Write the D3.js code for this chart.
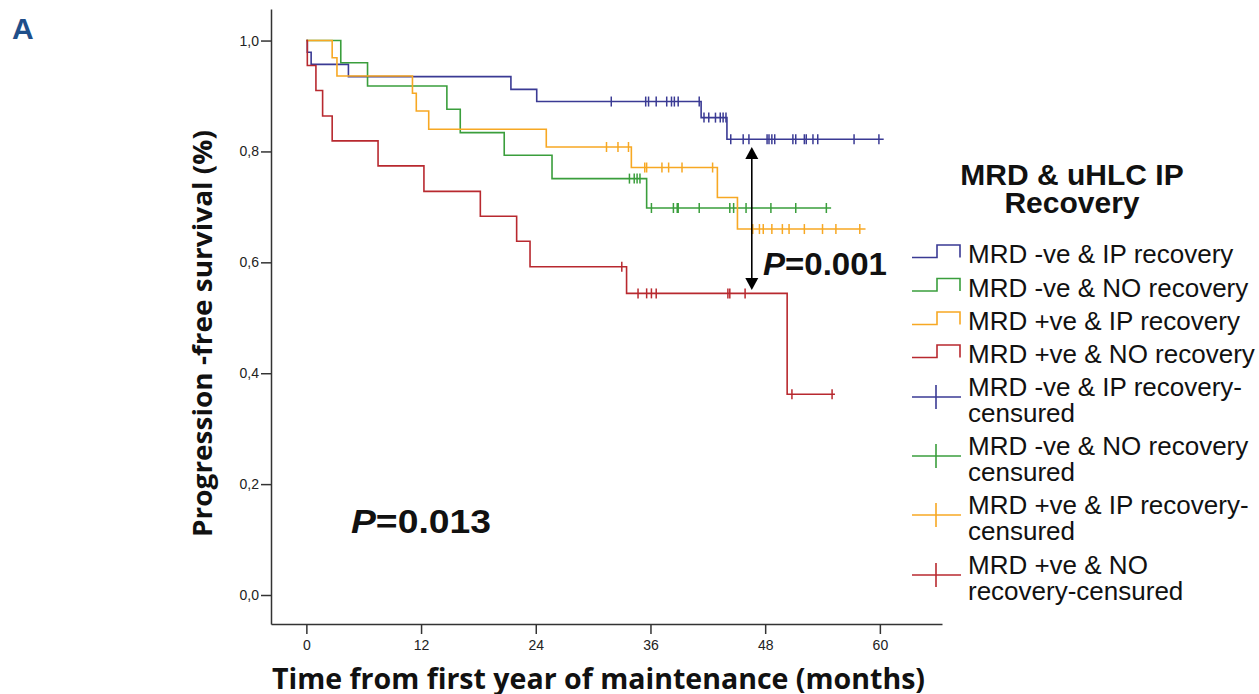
<!DOCTYPE html>
<html>
<head>
<meta charset="utf-8">
<script src="https://cdnjs.cloudflare.com/ajax/libs/d3/7.8.5/d3.min.js"></script>
<style>
body{margin:0;background:#fff;}
</style>
</head>
<body>
<script>
// KM curves: [time (months), survival after the drop]
var navySteps = [[0,1],[0.1,0.979],[0.5,0.957],[4.4,0.935],[21.4,0.912],[24.1,0.890],[41.3,0.861],[44.0,0.822]];
var navyEnd = 60.4;
var navyCensor = [31.9,35.5,35.8,36.6,37.7,38.2,38.5,38.9,41.1,41.6,42.1,42.8,43.3,43.6,43.9,44.4,45.7,46.3,48.2,48.4,48.7,49.0,50.9,51.2,52.1,52.3,53.0,53.5,57.3,59.9];

var greenSteps = [[0,1],[3.6,0.960],[6.4,0.918],[14.7,0.876],[16.1,0.834],[20.7,0.793],[25.7,0.751],[35.6,0.698]];
var greenEnd = 54.9;
var greenCensor = [33.8,34.3,34.6,34.9,36.1,38.4,38.8,38.9,41.1,44.3,44.7,46.0,48.6,51.2,54.4];

var orangeSteps = [[0,1],[2.7,0.969],[3.2,0.936],[11.1,0.905],[11.5,0.873],[12.8,0.840],[25.1,0.808],[34.0,0.771],[43.0,0.717],[45.1,0.660]];
var orangeEnd = 58.5;
var orangeCensor = [31.4,32.6,33.7,35.4,35.6,37.2,37.9,39.3,42.5,46.7,47.4,47.8,48.7,49.8,50.5,52.1,54.0,55.4,57.9];

var redSteps = [[0,1],[0.1,0.955],[1.0,0.910],[1.7,0.864],[2.7,0.819],[7.5,0.774],[12.3,0.728],[18.2,0.683],[22.0,0.638],[23.4,0.592],[33.5,0.544],[50.3,0.362]];
var redEnd = 55.3;
var redCensor = [33.0,34.7,35.6,36.1,36.6,44.1,44.3,45.9,50.8,55.0];

var xTicks = [0,12,24,36,48,60];
var yTicks = [0,0.2,0.4,0.6,0.8,1.0];

var groupNames = ['MRD -ve & IP recovery','MRD -ve & NO recovery','MRD +ve & IP recovery','MRD +ve & NO recovery'];
var censorNames = [['MRD -ve & IP recovery-','censured'],['MRD -ve & NO recovery','censured'],['MRD +ve & IP recovery-','censured'],['MRD +ve & NO','recovery-censured']];
var colors = ['#3a3a94','#3a9e3c','#f7a823','#b8292f'];

// arrow between best and worst curve + p values
var arrowT = 46.6, arrowTop = 0.808, arrowBottom = 0.550;

var width = 1259, height = 694;
var svg = d3.select('body').append('svg')
    .attr('width', width)
    .attr('height', height)
    .style('font-family', 'Liberation Sans, Arial, sans-serif');

var xScale = d3.scaleLinear().domain([-3.7, 66.5]).range([271, 942]);
var yScale = d3.scaleLinear().domain([-0.0523, 1.0569]).range([624, 9]);

var fmt = d3.format('.1f');
var xAxis = d3.axisBottom(xScale).tickValues(xTicks).tickSize(10).tickSizeOuter(0).tickPadding(6);
var yAxis = d3.axisLeft(yScale).tickValues(yTicks).tickSize(10).tickSizeOuter(0).tickPadding(2)
    .tickFormat(d => fmt(d).replace('.', ','));

var gx = svg.append('g').attr('transform', 'translate(0,624)').call(xAxis);
var gy = svg.append('g').attr('transform', 'translate(271,0)').call(yAxis);
[gx, gy].forEach(function(g){
    g.select('.domain').attr('stroke', '#333').attr('stroke-width', 1.5);
    g.selectAll('.tick line').attr('stroke', '#333').attr('stroke-width', 1.5);
    g.selectAll('.tick text').attr('fill', '#222').style('font-size', '14px').style('font-family', 'Liberation Sans, Arial, sans-serif');
});

// axis titles
svg.append('text').text('Time from first year of maintenance (months)')
    .attr('x', 272).attr('y', 689)
    .attr('textLength', 653).attr('lengthAdjust', 'spacingAndGlyphs')
    .style('font-family', 'Open Sans, sans-serif').style('font-weight', 'bold').style('font-size', '29px')
    .attr('fill', '#111');
svg.append('text').text('Progression -free survival (%)')
    .attr('transform', 'translate(212,537) rotate(-90)')
    .attr('textLength', 407).attr('lengthAdjust', 'spacingAndGlyphs')
    .style('font-family', 'Open Sans, sans-serif').style('font-weight', 'bold').style('font-size', '27px')
    .attr('fill', '#111');

// panel letter
svg.append('text').text('A').attr('x', 12).attr('y', 39)
    .style('font-weight', 'bold').style('font-size', '30px').attr('fill', '#1f4f8a');

// survival curves
var allSteps = [navySteps, greenSteps, orangeSteps, redSteps];
var allEnds = [navyEnd, greenEnd, orangeEnd, redEnd];
var allCensor = [navyCensor, greenCensor, orangeCensor, redCensor];

var line = d3.line().x(d => xScale(d[0])).y(d => yScale(d[1])).curve(d3.curveStepAfter);

function survAt(steps, t){   // value of the step function at time t
    var s = 1;
    for(var i=0;i<steps.length;i++){ if(steps[i][0] <= t){ s = steps[i][1]; } }
    return s;
}

for(var i=0;i<4;i++){
    var pts = allSteps[i].concat([[allEnds[i], allSteps[i][allSteps[i].length-1][1]]]);
    svg.append('path').datum(pts)
        .attr('d', line)
        .attr('fill', 'none')
        .attr('stroke', colors[i])
        .attr('stroke-width', 1.6);
    var steps = allSteps[i];
    svg.append('g').selectAll('line')
        .data(allCensor[i])
        .enter()
        .append('line')
        .attr('x1', d => xScale(d)).attr('x2', d => xScale(d))
        .attr('y1', d => yScale(survAt(steps, d)) - 5)
        .attr('y2', d => yScale(survAt(steps, d)) + 5)
        .attr('stroke', colors[i])
        .attr('stroke-width', 1.5);
}

// double arrow
var ax = xScale(arrowT), ay1 = yScale(arrowTop), ay2 = yScale(arrowBottom);
svg.append('line').attr('x1', ax).attr('x2', ax).attr('y1', ay1 + 8).attr('y2', ay2 - 8)
    .attr('stroke', '#000').attr('stroke-width', 1.6);
svg.append('path').attr('d', `M${ax},${ay1} L${ax-6.5},${ay1+12} L${ax+6.5},${ay1+12} Z`).attr('fill', '#000');
svg.append('path').attr('d', `M${ax},${ay2} L${ax-6.5},${ay2-12} L${ax+6.5},${ay2-12} Z`).attr('fill', '#000');

function pText(x, y, val, len, size){
    var t = svg.append('text').attr('x', x).attr('y', y)
        .attr('textLength', len).attr('lengthAdjust', 'spacingAndGlyphs')
        .style('font-weight', 'bold').style('font-size', size + 'px').attr('fill', '#111');
    t.append('tspan').text('P').style('font-style', 'italic');
    t.append('tspan').text('=' + val);
}
pText(763, 275, '0.001', 124, 31);
pText(351, 533, '0.013', 140, 33);

// legend
svg.append('text').text('MRD & uHLC IP').attr('x', 1072).attr('y', 185).attr('text-anchor', 'middle')
    .style('font-weight', 'bold').style('font-size', '30px').attr('fill', '#111');
svg.append('text').text('Recovery').attr('x', 1072).attr('y', 213).attr('text-anchor', 'middle')
    .style('font-weight', 'bold').style('font-size', '30px').attr('fill', '#111');

var rowBase = [263, 296.5, 330, 363];
for(var i=0;i<4;i++){
    var b = rowBase[i];
    svg.append('path').attr('d', `M912,${b-5.5} H937 V${b-18} H960 V${b-5.5}`)
        .attr('fill', 'none').attr('stroke', colors[i]).attr('stroke-width', 1.6);
    svg.append('text').text(groupNames[i]).attr('x', 968).attr('y', b)
        .style('font-size', '26px').attr('fill', '#111');
}
var censBase = [396, 455, 514, 574];
for(var i=0;i<4;i++){
    var b = censBase[i];
    svg.append('line').attr('x1', 912).attr('x2', 961).attr('y1', b+1).attr('y2', b+1)
        .attr('stroke', colors[i]).attr('stroke-width', 1.6);
    svg.append('line').attr('x1', 936).attr('x2', 936).attr('y1', b-11).attr('y2', b+13)
        .attr('stroke', colors[i]).attr('stroke-width', 1.6);
    svg.append('text').text(censorNames[i][0]).attr('x', 968).attr('y', b)
        .style('font-size', '26px').attr('fill', '#111');
    svg.append('text').text(censorNames[i][1]).attr('x', 968).attr('y', b + 26)
        .style('font-size', '26px').attr('fill', '#111');
}
</script>
</body>
</html>
